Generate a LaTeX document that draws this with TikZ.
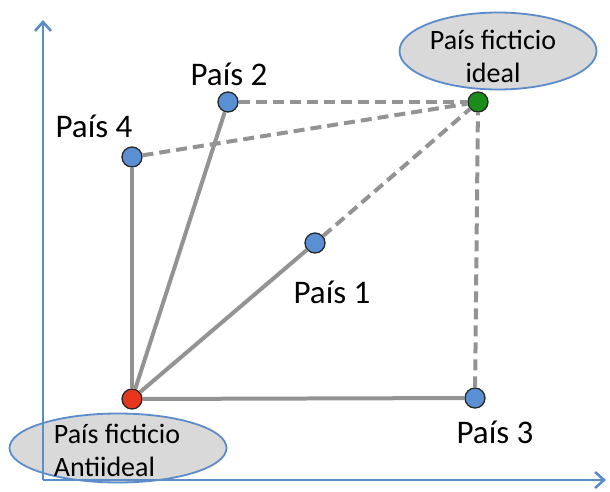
\documentclass[tikz,border=0pt]{standalone}
\usepackage{fontspec}
\setmainfont{Carlito}
\usetikzlibrary{arrows.meta,shapes.geometric}
\definecolor{axisblue}{HTML}{5B8BC9}
\definecolor{dotblue}{HTML}{5B8FD3}
\definecolor{dotred}{HTML}{E8361C}
\definecolor{dotgreen}{HTML}{1A8C1A}
\definecolor{linegray}{HTML}{939393}
\definecolor{boxgray}{HTML}{D9D9D9}
\begin{document}
\begin{tikzpicture}[x=1pt,y=-1pt,
  axisline/.style={draw=axisblue,line width=2.6pt,-{Straight Barb[length=9pt,width=16pt,line width=2.6pt]}},
  solidlink/.style={draw=linegray,line width=4pt},
  dashlink/.style={draw=linegray,line width=4pt,dash pattern=on 11pt off 6pt},
  dot/.style={circle,minimum size=20pt,inner sep=0pt,draw=black!85,line width=1.3pt},
  label/.style={font=\fontsize{33}{39}\selectfont,anchor=base,inner sep=0pt},
  boxtext/.style={font=\fontsize{28}{33}\selectfont,inner sep=0pt},
  cloud/.style={ellipse,draw=axisblue,line width=1.8pt,fill=boxgray,inner sep=0pt}]
\useasboundingbox (0,0) rectangle (610,491);
% ellipses
\node[cloud,minimum width=197pt,minimum height=77pt] (idealbox) at (498,51) {};
\node[boxtext,align=center] (idealtext) at (493,56) {País ficticio\\ideal};
\node[cloud,minimum width=217pt,minimum height=69pt] (antibox) at (118,448) {};
\node[boxtext,align=left] (antitext) at (117,450) {País ficticio\\Antiideal};
% axes
\coordinate (origin) at (43,480);
\coordinate (ytip) at (43,20);
\coordinate (xtip) at (606,480);
\draw[axisline] (origin) -- (ytip);
\draw[axisline] (origin) -- (xtip);
% points
\node[dot,fill=dotred] (anti) at (132,399) {};
\node[dot,fill=dotgreen] (ideal) at (478,102) {};
\node[dot,fill=dotblue] (p1) at (315,243) {};
\node[dot,fill=dotblue] (p2) at (228,102) {};
\node[dot,fill=dotblue] (p3) at (475,398) {};
\node[dot,fill=dotblue] (p4) at (132,157) {};
% links
\draw[solidlink] (anti) -- (p4);
\draw[solidlink] (anti) -- (p2);
\draw[solidlink] (anti) -- (p1);
\draw[solidlink] (anti) -- (p3);
\draw[dashlink] (p4) -- (ideal);
\draw[dashlink] (p2) -- (ideal);
\draw[dashlink] (p1) -- (ideal);
\draw[dashlink] (p3) -- (ideal);
% labels
\node[label] (l1) at (332,303) {País 1};
\node[label] (l2) at (229,85) {País 2};
\node[label] (l3) at (495,443) {País 3};
\node[label] (l4) at (94,137) {País 4};
\end{tikzpicture}
\end{document}
